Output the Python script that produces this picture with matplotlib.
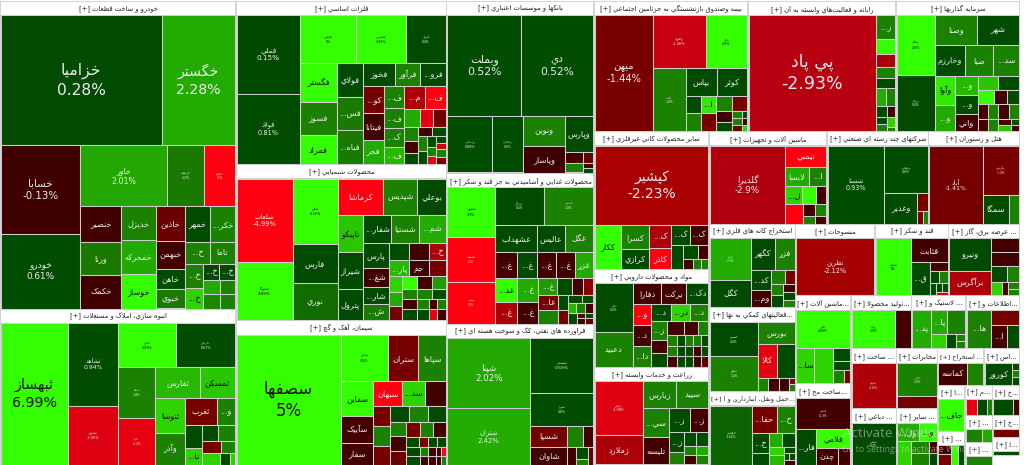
import matplotlib
matplotlib.use("Agg")
import matplotlib.pyplot as plt
from matplotlib.patches import Rectangle
import numpy as np

plt.rcParams['font.family'] = ['DejaVu Sans']
E = ''
# ---------- sector data: names, percent change, market size, split pattern ----------
s1_title = "خودرو و ساخت قطعات"
s1_names = ["خزامیا","خگستر","خسابا","خودرو","خاور","خریخت","خکاوه","خنصیر","ورنا","خکمک","خدیزل","خمحرکه","خوساز","خاذین","خبهمن","خاهن","خبوی","خمهر","خکر...","خ...","تاما","خ...","خ...","خ...","خ...",E,E,E,E]
s1_pct = [0.28,2.28,-0.13,0.61,2.01,1.3,-5,-0.3,1.3,-0.2,1.4,2.2,4.9,-1.2,-0.3,0.5,1.3,0.4,1.4,1.4,1.4,1.4,3,0.4,0.4,2.3,1.4,1.5,1.4]
s1_caps = [20480,9344,6942,5850,5220,2220,1860,1440,1320,1320,1155,1155,1190,986,783,580,551,875,875,525,525,432,360,255,255,238,210,238,210]
s1_tree = [[2],[[2],[[3],[[3],[3],[4],[[2],[2],[[2],[[2],[2],[2]]]]]]]]

s2_title = "انبوه سازی، املاک و مستغلات"
s2_names = ["ثبهساز","ثشاهد","ثشرق","ثامان","ثارمان","ثاصفا","ثاباد","ثفارس","ثمسکن","ثنوسا","وآذر","ثغرب","و...",E,"نا...",E,E,E,E,E,E,E]
s2_pct = [6.99,0.94,-3.05,4.89,0.67,1.4,-3.3,2.6,2.8,3,1.4,-1.4,1.4,0.4,3,0.4,1.4,-1.4,1.4,3,0.4,3]
s2_caps = [9372,4067,2842,2494,2537,1836,1700,1350,1080,1015,899,858,468,391,289,240,255,228,168,198,110,55]
s2_tree = [[1,[2],[[2],[[2],[[2],[[2],[[2],[[2],[[2],[2],[3]]]]]]]]]]

s3_title = "فلزات اساسی"
s3_names = ["فملی","فولاد","فخاس","فاسمین","فنوال","فگستر","فسوز","فمراد","فولای","فس...","فباه...","فخوز","فرآور","فرو...","کو...","فیتانا","فجر","ف...","ف...","ک...","ف...","م...","ف..."]+[E]*17
s3_pct = [0.15,0.81,5,4.93,0.4,5,1.4,5,0.4,1.3,1.3,0.4,1.4,0.4,-1.4,-0.2,2.3,1.4,1.4,1.4,2.6,-2.6,-5,2.4,-3.2,-1.3,1.4,-0.2,0.4,-0.2,0.4,1.4,0.4,0.4,1.4,-3.3,0.4,-3,1.4,-1.3]
s3_caps = [4836,4340,2632,2350,1880,1368,1188,1044,858,858,858,704,572,572,567,546,504,420,380,360,320,462,462,288,234,234,195,165,150,120,120,126,108,100,90,70,70,60,70,70]
s3_tree = [[[2],[[3],[[3],[3],[[3],[[3],[4],[[2],[3],[[3],[[2],[[2],[3],[4]]]]]]]]]]]

s4_title = "محصولات شیمیایی"
s4_names = ["شلعاب","شتوکا","شفن","فارس","نوری","کرماشا","شپدیس","بوعلی","تاپیکو","شیراز","پترول","شفار...","شستیا","شم...","پارس","شغ...","شار...","ش...",E,E,"خ...","پار...","جم"]+[E]*18
s4_pct = [-4.99,4.99,5.37,0.4,1.2,-5,1.4,0.4,2.8,0.4,0.4,0.4,1.4,2.3,0.4,-0.3,0.4,1.3,0.4,-0.3,-2.6,2.6,-0.2,-1.4,3,2.3,-1.4,4.5,-0.3,1.8,1.4,1.4,0.4,-0.3,0.4,1.4,0.4,-0.3,1.4,-3.3,-0.3]
s4_caps = [4510,3135,2860,1672,1628,1610,1190,1015,925,900,775,756,729,729,625,450,425,400,340,323,289,320,304,272,210,182,182,180,168,168,150,140,140,150,165,110,121,90,90,90,90]
s4_tree = [[[2],[3],[[3],[[3],[[3],[[4],[[3],[3],[[3],[[3],[3],[[2],[2],[[2],[2]]]]]]]]]]]]

s5_title = "سیمان، آهک و گچ"
s5_names = ["سصفها","سخزر","ستران","سپاها","سفاین","سآبیک","سفار","سبهان","سد..."]+[E]*27
s5_pct = [5,4.9,-1.4,1.4,5,-0.3,-0.3,-5,3,-0.2,-1.4,1.4,-1.4,0.4,1.4,0.4,1.4,-0.3,-1.2,-1.4,1.4,-0.3,0.4,-1.4,0.4,0.4,0.4,1.4,-0.3,-0.3,-5,0.4,-0.3,-0.3,-0.3,1.4]
s5_caps = [13260,2160,1395,1260,1122,858,693,696,552,504,320,320,304,300,285,285,240,240,224,196,196,182,130,90,90,90,117,72,63,45,45,117,72,63,45,45]
s5_tree = [[1,[[3],[[3],[[3],[[3],[[3],[[3],[[3],[4],[5],[5]]]]]]]]]]

s6_title = "بانکها و موسسات اعتباری"
s6_names = ["وبملت","دی","وبصادر","وتجارت","ونوین","وپاسار","وپارس",E,E,E,E,E]
s6_pct = [0.52,0.52,0.88,0.6,1.4,-0.2,0.4,-0.3,-1.2,1.4,-0.3,0.4]
s6_caps = [7300,7100,2451,1710,1230,1107,980,187,110,170,50,50]
s6_tree = [[2],[2,[2],[1,[2],[1,[2]]]]]

s7_title = "محصولات غذایی و آشامیدنی به جز قند و شکر"
s7_names = ["غبشهر","غدشت","غپینو","غمارگ","غصینو","غشهداب","عالیس","غگل","غ...","غ...","غ...","غ...","غزر","غذ...","غ...","غ...","غ...","غ...",E,E,E,"غا..."]+[E]*13
s7_pct = [4.9,-5,-5,0.4,1.4,0.4,0.4,1.4,-0.3,0.4,-0.3,-0.3,2.3,4.9,-2.6,2.3,-0.3,1.8,0.4,-0.3,-1.7,-1.4,1.4,0.4,-1.4,0.4,0.4,2.6,1.4,-0.3,0.4,-1,-0.3,0.4,-1]
s7_caps = [2300,2070,1886,1785,1785,1134,729,756,572,494,494,468,468,528,462,480,440,306,238,170,170,288,252,144,126,112,88,80,80,80,88,40,40,40,40]
s7_tree = [[[3],[[2],[3],[5],[[2],[2],[[4],[[2],[2],[[2],[3],[1,[2],[2]]]]]]]]]

s8_title = "فراورده های نفتی، کک و سوخت هسته ای"
s8_names = ["شپنا","شتران","شبندر","شراز","شسپا","شاوان",E,E,E,E,E,E]
s8_pct = [2.02,2.42,0.59,0.6,-1.4,-0.3,1.4,-0.3,-0.3,0.4,1.4,-1]
s8_caps = [5670,4536,3339,2016,756,648,315,210,144,144,72,90]
s8_tree = [[[2],[1,1,[[2],[[2],[1,[2],1]]]]]]

s9_title = "بیمه وصندوق بازنشستگی به جزتامین اجتماعی"
s9_names = ["میهن","وآفری","وکار","بکاب","بپاس","کوثر",E,E,"ا...",E,E,E,E,E,E,E,E,E,E,E]
s9_pct = [-1.44,-2.98,4.9,1.4,0.4,0.4,0.4,1.4,3.5,-1.4,1.4,-1.4,-0.2,0.4,1.4,0.4,1.4,-0.3,-1,3]
s9_caps = [6498,2652,2091,1922,832,780,252,252,252,252,240,210,176,144,63,35,63,35,54,30]
s9_tree = [[1,[[2],[1,[[2],[[2],[2],[[2],[[2],[[2],[2],[2]]]]]]]]]]

s10_title = "سایر محصولات کانی غیرفلزی"
s10_names = ["کپشیر","ککار","کسرا","کرازی","ک...","کاذر","ک...","ک...",E,E,E,E,E,E]
s10_pct = [-2.23,5,1.4,0.4,-2.6,-5,0.4,-0.3,0.4,0.4,-0.3,-0.3,1.4,1.4]
s10_caps = [8848,1125,675,540,480,420,360,360,288,210,140,100,80,70]
s10_tree = [1,[1,[2],[2],[[2],[1,[[2],[3]]]]]]

s11_title = "مواد و محصولات دارویی"
s11_names = ["دالبر","دعبید","دفارا","برکت","دک...","و...","د...","دا...","د...","در...","د...","ز..."]+[E]*20
s11_pct = [0.4,1.4,-0.3,-0.3,0.4,-5,-0.3,1.4,0.4,3,1.4,1.4,-0.3,0.4,-0.3,-0.3,1.4,1.4,1.4,-0.3,0.4,1.4,1.4,0.4,0.4,0.4,-0.3,0.4,0.4,0.4,-0.3,-1]
s11_caps = [1800,1258,560,480,440,378,360,360,340,306,306,288,208,208,224,196,140,100,100,100]+[80]*12
s11_tree = [[[2],[[3],[[3],[[3],[[3],[[3],[[3],[[4],[4],[4]]]]]]]]]]

s12_title = "زراعت و خدمات وابسته"
s12_names = ["زقیام","زملارد","زبارس","سیید","سی...","تلیسه","ز...","ز...","ز..."]+[E]*7
s12_pct = [-3.08,-2.6,1.4,1.4,1.4,-0.3,0.4,-0.3,0.4,1.4,0.4,0.4,1.4,2.3,-0.3,1.4]
s12_caps = [2496,1392,858,832,725,675,504,432,304,192,156,156,108,108,108,108]
s12_tree = [[[2],[[2],[[2],[[2],[[2],[[2],[2],[2]]]]]]]]

s13_title = "ماشین آلات و تجهیزات"
s13_names = ["گلدیرا","تیمبی","لابسا","ا...","ل...",E,E,E,E,E,E,E]
s13_pct = [-2.9,-5,2.3,1.4,3,4.9,-0.3,-5,-0.3,1.4,1.4,-0.3]
s13_caps = [5700,861,456,323,306,252,180,342,132,96,121,88]
s13_tree = [[1,[1,[2],[3],[1,[2],[2]]]]]

s14_title = "استخراج کانه های فلزی"
s14_names = ["کیمیا","کگل","کگهر","فزر","کد...","وم...",E,E,E,E,E,E,E]
s14_pct = [2.3,0.4,0.4,1.4,0.4,-0.3,1.4,-1.4,1.4,0.4,-0.3,0.4,1.4]
s14_caps = [1700,1140,750,630,420,340,210,140,130,143,91,91,91]
s14_tree = [[[2],[[2],[[2],[[2],[[2],[3]]]]]]]

s15_title = "...فعالیتهای کمکی به نها"
s15_names = ["کیسون","ثنظام","بورس","کالا",E,E,E,E,E,E]
s15_pct = [0.4,1.4,1.4,-3.3,0.4,1.4,-0.3,-0.3,-1.4,1.4]
s15_caps = [1750,1750,858,660,627,143,143,143,42,42]
s15_tree = [[[2],[1,[2],[1,1,1,[2]]]]]

s16_title = "...حمل ونقل، انبارداری و ا"
s16_names = ["حکشتی","حفا...","ح...","ح...",E,E,E,E,E,E,E,E,E]
s16_pct = [1.14,-1.4,1.4,0.4,0.4,2.3,0.4,3,2.6,0.4,0.4,0.4,-0.3]
s16_caps = [2460,700,504,340,187,182,182,120,135,60,42,42,48]
s16_tree = [[1,[[2],[[2],[[2],[[2],[1,[2],1]]]]]]]

s17_title = "رایانه و فعالیت‌های وابسته به آن"
s17_names = ["پی پاد","ز..."]+[E]*12
s17_pct = [-2.93,1.4,5,-2.6,1.4,0.4,2.3,1.4,0.4,-0.3,0.4,1.4,3,1.4]
s17_caps = [14364,437,266,247,190,190,170,153,121,88,66,77,72,32]
s17_tree = [[1,[1,1,1,1,1,[2],[2],[[2],[2]]]]]

s18_title = "سرمایه گذاریها"
s18_names = ["وبانک","ونیکی","وصنا","شهر","وخارزم","صبا","سد...","وآوا","و...","و...","و...","وانی"]+[E]*15
s18_pct = [4.9,0.4,1.4,0.4,0.4,1.4,1.4,3.5,2.3,2.6,0.4,-0.3,2.8,0.4,4.5,-0.3,0.4,-0.3,1.4,-0.3,1.4,-0.3,1.4,-0.3,0.4,2.8,-0.3]
s18_caps = [2183,2035,1204,1176,900,840,780,580,500,418,396,374,280,280,224,168,168,140,140,140,140,120,120,72,48,72,48]
s18_tree = [[[2],[[2],[3],[[2],[3],[[2],[3],[4],[1,1,[[2],[2]]]]]]]]

s19_title = "شرکتهای چند رشته ای صنعتی"
s19_names = ["شستا","ومعادن","وغدیر",E,E,E]
s19_pct = [0.93,0.6,0.4,-1.4,-1.4,1.4]
s19_caps = [4389,2068,990,198,72,60]
s19_tree = [[1,[1,[1,[1,[2]]]]]]

s20_title = "هتل و رستوران"
s20_names = ["آباد","وگردش","سمگا",E]
s20_pct = [-1.41,-1.4,0.4,1.4]
s20_caps = [4104,1750,725,290]
s20_tree = [[1,[1,[2]]]]

s21_title = "منسوجات"
s21_names = ["نطرین"]
s21_pct = [-2.12]
s21_caps = [4400]
s21_tree = [1]

s22_title = "قند و شکر"
s22_names = ["قشکر","قثابت","ق...",E,E,E,E,E,E,E]
s22_pct = [5,-0.3,0.4,-0.3,0.4,1.4,0.4,0.4,0.4,-3]
s22_caps = [1960,851,594,152,110,99,78,50,50,39]
s22_tree = [[1,[1,[1,[1,[2],[1,[[2],1]]]]]]]

s23_title = "... عرضه برق، گاز"
s23_names = ["ونیرو","برآگرس",E,E,E,E,E,E,E,E]
s23_pct = [0.4,-2.6,-0.3,-0.3,0.4,1.4,3,-0.3,1.4,1.4]
s23_caps = [1312,984,364,364,256,192,132,72,66,66]
s23_tree = [[[2],[1,1,[2],[1,1,[2]]]]]

s24_title = "...ماشین آلات"
s24_names = ["تکنو","سا...",E,E,E,E,E]
s24_pct = [4.88,3,3,0.4,0.4,1.4,-1.4]
s24_caps = [2052,630,630,216,162,156,78]
s24_tree = [1,[1,1,[1,1,[2]]]]

s25_title = "...تولید محصولا"
s25_names = ["رتاپ",E]
s25_pct = [4.9,-0.3]
s25_caps = [1750,629]
s25_tree = [[2]]

s26_title = "... لاستیک و"
s26_names = ["پد...","پا...",E,E,E,E,E]
s26_pct = [2.3,2.4,1.4,3,0.4,1.4,1.4]
s26_caps = [666,368,414,196,126,63,63]
s26_tree = [[1,[[2],[1,1,[2]]]]]

s27_title = "...اطلاعات و"
s27_names = ["ها...",E,"ا...",E]
s27_pct = [1.4,-1.4,-0.3,0.4]
s27_caps = [851,406,352,264]
s27_tree = [[1,[1,[2]]]]

s28_title = "... ساخت"
s28_names = ["فنری"]
s28_pct = [-2.6]
s28_caps = [1936]
s28_tree = [1]

s29_title = "مخابرات"
s29_names = ["اخابر",E]
s29_pct = [1.4,-1.4]
s29_caps = [1750,620]
s29_tree = [2]

s30_title = "... استخراج"
s30_names = ["کماسه",E]
s30_pct = [-0.3,1.4]
s30_caps = [609,357]
s30_tree = [[2]]

s31_title = "...اس"
s31_names = ["کورور",E,E,E]
s31_pct = [0.4,0.4,1.4,0.4]
s31_caps = [567,49,49,49]
s31_tree = [[1,[3]]]

s32_title = "...ساخت مح"
s32_names = ["فباهنر","فار...","فلامی","چدن",E]
s32_pct = [-0.3,0.4,4.5,-0.3,-0.3]
s32_caps = [1750,760,714,374,204]
s32_tree = [1,[1,[1,[2]]]]

s33_title = "... دباغی"
s33_names = ["سپاس"]
s33_pct = [0.4]
s33_caps = [1892]
s33_tree = [1]

s34_title = "... سایر"
s34_names = ["ول...","و...",E,E,E,E,E]
s34_pct = [2.3,4,3,1.4,1.4,-0.3,0.4]
s34_caps = [418,342,336,216,216,96,96]
s34_tree = [[2],[1,[2],[2]]]

s35_title = "...ا"
s35_names = ["جاف..."]
s35_pct = [4.9]
s35_caps = [806]
s35_tree = [1]

s36_title = "..."
s36_names = [E,E,E,E]
s36_pct = [-0.3,-1.4,4,0.4]
s36_caps = [130,143,147,126]
s36_tree = [[[2],1,1]]

s37_title = "...م"
s37_names = [E,E,E]
s37_pct = [-3.3,0.4,1.4]
s37_caps = [165,150,75]
s37_tree = [[3]]

s38_title = "..."
s38_names = [E,E]
s38_pct = [1.4,2.3]
s38_caps = [176,110]
s38_tree = [[2]]

s39_title = "..."
s39_names = [E]
s39_pct = [1.4]
s39_caps = [260]
s39_tree = [1]

s40_title = "...خ"
s40_names = [E,E]
s40_pct = [0.4,-0.3]
s40_caps = [300,90]
s40_tree = [[2]]

s41_title = "...خ"
s41_names = [E]
s41_pct = [-1.4]
s41_caps = [160]
s41_tree = [1]

s42_title = "...ا"
s42_names = [E]
s42_pct = [0.4]
s42_caps = [130]
s42_tree = [1]

# sector sizes in the order they are laid out
sector_order = [1,2, 3,4,5, 6,7,8, 9,17,18, 10,11,12, 13,19,20, 14,15,16, 21,22,23,
                24,32, 25,26,27, 28,29,33,34, 30,31, 35,36, 37,38,39, 40,41,42, 0]
sector_sizes = [233.5*308,233.5*156, 209*163,209*156,209*144, 145.5*172,145.5*151,145.5*141,
                154*129,148*129,124*129, 114*138,114*98,114*98, 119*91,102*91,92*91,
                85*84,85*84,85*74, 79*71,73*71,71*71, 55*88,55*81, 60*53,54*53,53*53,
                45*60,41*60,45*56,41*56, 47*36,36*36, 27*46,27*34, 27*30,27*27,27*23,
                27*30,27*22,27*18,27*10]
sector_tree = [[[2],[3],[3],[[3],[[3],[[3],[[3],[[3],[[2],[[3],[[[2],[2]],[[2],[[2],[3],[4]]]]]]]]]]]]]

g = globals()
# ---------- Persian shaping (the text engine does not join or reorder letters) ----------
DUAL = {'ب':0xFE8F,'پ':0xFB56,'ت':0xFE95,'ث':0xFE99,'ج':0xFE9D,'چ':0xFB7A,'ح':0xFEA1,'خ':0xFEA5,
        'س':0xFEB1,'ش':0xFEB5,'ص':0xFEB9,'ض':0xFEBD,'ط':0xFEC1,'ظ':0xFEC5,'ع':0xFEC9,'غ':0xFECD,
        'ف':0xFED1,'ق':0xFED5,'ک':0xFB8E,'گ':0xFB92,'ل':0xFEDD,'م':0xFEE1,'ن':0xFEE5,'ه':0xFEE9,'ي':0xFEF1}
RIGHT = {'ا':0xFE8D,'آ':0xFE81,'د':0xFEA9,'ذ':0xFEAB,'ر':0xFEAD,'ز':0xFEAF,'ژ':0xFB8A,'و':0xFEED}

def visual(s):
    s = s.replace('ی', 'ي').replace('ك', 'ک')
    out, i = [], 0
    while i < len(s):
        c = s[i]
        prev_j = i > 0 and s[i-1] in DUAL
        nxt = s[i+1] if i+1 < len(s) else ''
        next_j = nxt in DUAL or nxt in RIGHT if nxt else False
        if c == 'ل' and nxt in ('ا', 'آ'):
            base = 0xFEFB if nxt == 'ا' else 0xFEF5
            out.append(chr(base + (1 if prev_j else 0)))
            i += 2
            continue
        if c in DUAL:
            k = (3 if next_j else 1) if prev_j else (2 if next_j else 0)
            out.append(chr(DUAL[c] + k))
        elif c in RIGHT:
            out.append(chr(RIGHT[c] + (1 if prev_j else 0)))
        elif c != '\u200c':
            out.append(c)
        i += 1
    return ''.join(reversed(out))

# ---------- layout ----------
def expand(node, it):
    kids, total = [], 0
    for ch in node:
        if isinstance(ch, int):
            for _ in range(ch):
                idx, val = next(it)
                kids.append((idx, val, None))
                total += val
        else:
            sub = expand(ch, it)
            kids.append((None, sub[1], sub[2]))
            total += sub[1]
    return (None, total, kids)

def place(tree, x0, y0, x1, y1, vertical, out):
    _, total, kids = tree
    pos = y0 if vertical else x0
    span = (y1 - y0) if vertical else (x1 - x0)
    for idx, val, sub in kids:
        step = span * val / total
        r = (x0, pos, x1, pos + step) if vertical else (pos, y0, pos + step, y1)
        pos += step
        if sub is None:
            out.append((idx, r))
        else:
            place((None, val, sub), r[0], r[1], r[2], r[3], not vertical, out)

def rects(tree_spec, values, box):
    it = iter(enumerate(values))
    t = expand(tree_spec, it)
    left = sum(1 for _ in it)
    if left:
        raise ValueError(f'{left} values left over')
    out = []
    place(t, *box, True, out)
    return out

stops_p = [-5, -4, -3.05, -2.9, -2.2, -1.44, -0.5, -0.01, 0, 1.0, 1.3, 2.0, 2.4, 3.0, 4.0, 8]
stops_c = ['#ff0010','#ff0010','#dd0010','#b00010','#aa0000','#780000','#450000','#3d0000',
           '#004a00','#004d00','#1a7a00','#22a800','#22ac00','#2dd400','#33ff00','#33ff00']
rgb = np.array([matplotlib.colors.to_rgb(c) for c in stops_c])
def color(p):
    return tuple(np.interp(p, stops_p, rgb[:, k]) for k in range(3))

W, H = 1024, 465
fig = plt.figure(figsize=(W/100, H/100), dpi=100, facecolor='white')
ax = fig.add_axes([0, 0, 1, 1])
ax.set_xlim(0, W); ax.set_ylim(H, 0); ax.axis('off')
ax.add_patch(Rectangle((0, 1), 1020, H, fc='#d4d4d4', ec='none', zorder=0))

renderer = fig.canvas.get_renderer()
PX = 0.72
def put(x, y, s, px, col, w, h, zorder=4):
    t = ax.text(x, y, s, ha='center', va='center', fontsize=px*PX, color=col,
                linespacing=1.3, zorder=zorder, clip_on=True)
    bb = t.get_window_extent(renderer)
    f = min(1, (w-1)/max(bb.width, 1), (h-1)/max(bb.height, 1))
    if f < 1:
        t.set_fontsize(max(px*PX*f, 1.5))
    return t

def pct_text(p):
    return f"{p:.2f}".rstrip('0').rstrip('.') + '%'

boxes = rects(sector_tree, sector_sizes, (0, 1, 1020, H))
for (i, (x0, y0, x1, y1)), sid in zip(boxes, sector_order):
    if sid == 0:
        ax.add_patch(Rectangle((x0, y0), x1-x0, H-y0, fc='white', ec='none', zorder=1))
        continue
    ax.add_patch(Rectangle((x0+0.5, y0+0.7), x1-x0-1.5, 13.3, fc='white', ec='none', zorder=1))
    title = g[f's{sid}_title']
    put((x0+x1)/2, y0+7.6, '[+] ' + visual(title), 6.8, '#222222', x1-x0-3, 13)
    names, pcts, caps = g[f's{sid}_names'], g[f's{sid}_pct'], g[f's{sid}_caps']
    cells = rects(g[f's{sid}_tree'], caps, (x0+0.5, y0+14.2, x1-1, y1-0.5))
    for idx, (a, b, c, d) in cells:
        w, h = c-a, d-b
        p = pcts[idx]
        ax.add_patch(Rectangle((a, b), w, h, fc=color(p), ec='#cdcdcd', lw=0.75, zorder=2))
        nm = names[idx]
        if not nm:
            continue
        col = '#101010' if p >= 2.7 else '#ececec'
        area = w*h
        if caps[idx] >= 1700:
            px = np.interp(area, [1700,3100,4200,5200,5600,6900,8700,9200,13000,14300,20000],
                           [3,3.6,6.3,7.5,8.5,10,13,14,16,17.5,15.5])
            put((a+c)/2, (b+d)/2, visual(nm)+'\n'+pct_text(p), px, col, w, h)
        else:
            put((a+c)/2, (b+d)/2, visual(nm), 8.2, col, w, h)

ax.text(843, 433, 'Activate Windows', fontsize=9.6, family='Open Sans', color='#d8d8d8', alpha=0.55, va='center', zorder=6)
ax.text(842, 449, 'Go to Settings to activate Windows.', fontsize=6.3, family='Open Sans', color='#d8d8d8', alpha=0.55, va='center', zorder=6)

fig.savefig('out.png', dpi=100, facecolor='white')
